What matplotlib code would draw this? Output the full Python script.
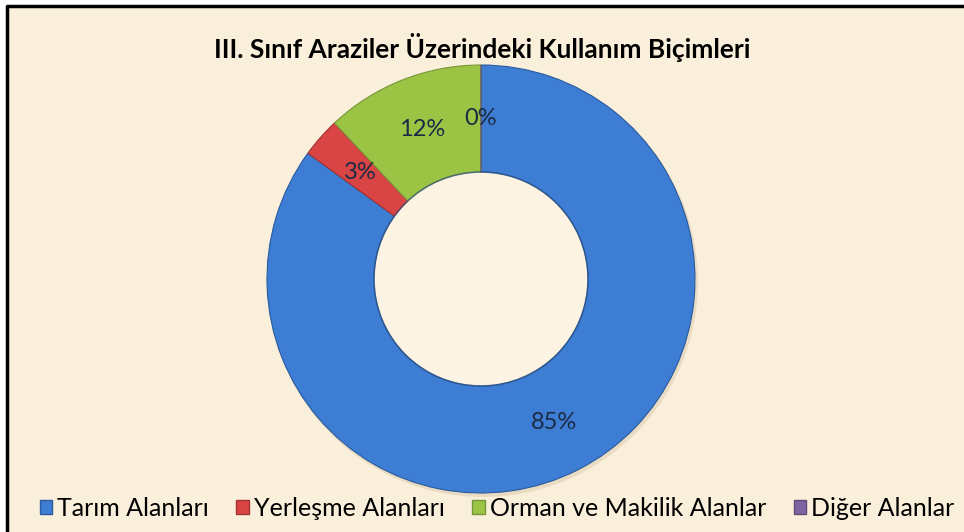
import matplotlib.pyplot as plt
from matplotlib.patches import Patch

# land use shares on class III land
categories = ["Tarım Alanları", "Yerleşme Alanları", "Orman ve Makilik Alanlar", "Diğer Alanlar"]
shares = [85, 3, 12, 0]
colors = ["#3d7dd4", "#d94444", "#9cc444", "#8064a2"]
edge_colors = ["#2a5b9e", "#a33232", "#77963a", "#5f4a7c"]
title = "III. Sınıf Araziler Üzerindeki Kullanım Biçimleri"

W, H = 964, 532
paper = "#faefda"

plt.rcParams["font.family"] = ["Lato", "DejaVu Sans"]

fig = plt.figure(figsize=(W / 100, H / 100), dpi=100)
fig.patch.set_facecolor("white")
ax = fig.add_axes([0, 0, 1, 1])

# background sheet with black frame on top/left
ax.add_patch(plt.Rectangle((6, 0), W, H - 6, facecolor=paper, edgecolor="none", zorder=0))
ax.plot([6.5, 6.5, W], [0, H - 5.5, H - 5.5], color="black", lw=2.5, zorder=1, solid_capstyle="butt")

cx, cy = 481, H - 279
r_out = 214
r_in = 107

# soft drop shadow
ax.add_patch(plt.Circle((cx + 2, cy - 3), r_out + 1, facecolor="#cdbb98", edgecolor="none", alpha=0.35, zorder=1))
ax.add_patch(plt.Circle((cx, cy), r_in, facecolor="#fcf3e2", edgecolor="none", zorder=1.5))

wedges, texts, autotexts = ax.pie(
    shares,
    colors=colors,
    startangle=90,
    counterclock=False,
    center=(cx, cy),
    radius=r_out,
    autopct=lambda p: f"{p:.0f}%",
    pctdistance=0.75,
    wedgeprops=dict(width=r_out - r_in, linewidth=0.8),
    textprops=dict(fontsize=17, color="#1c2a44"),
    frame=True,
)
for w, ec in zip(wedges, edge_colors):
    w.set_edgecolor(ec)
    w.set_zorder(2)
for t in autotexts:
    t.set_zorder(4)

# bevel: light band near the outer rim, shade at the inner rim
ax.pie(
    shares,
    colors=["white"] * len(shares),
    startangle=90,
    counterclock=False,
    center=(cx, cy),
    radius=r_out - 3,
    wedgeprops=dict(width=9, linewidth=0, alpha=0.10),
    frame=True,
)
ax.pie(
    shares,
    colors=["black"] * len(shares),
    startangle=90,
    counterclock=False,
    center=(cx, cy),
    radius=r_in + 10,
    wedgeprops=dict(width=10, linewidth=0, alpha=0.08),
    frame=True,
)
ax.add_patch(plt.Circle((cx, cy), r_in, facecolor="none", edgecolor="#2a4f80", lw=1.2, alpha=0.6, zorder=3))

ax.set_xlim(0, W)
ax.set_ylim(0, H)
ax.set_aspect("equal")
ax.axis("off")

fig.text(0.5, 1 - 47 / H, title, ha="center", va="center", fontsize=19, fontweight="bold", color="black")

handles = [Patch(facecolor=c, edgecolor=e, label=l) for c, e, l in zip(colors, edge_colors, categories)]
fig.legend(
    handles=handles,
    loc="center",
    bbox_to_anchor=(497 / W, 1 - 508 / H),
    ncol=4,
    frameon=False,
    fontsize=18,
    handlelength=0.5,
    handleheight=0.5,
    handletextpad=0.2,
    columnspacing=1.1,
    borderpad=0.0,
)

fig.savefig("out.png", dpi=100, facecolor=fig.get_facecolor())
